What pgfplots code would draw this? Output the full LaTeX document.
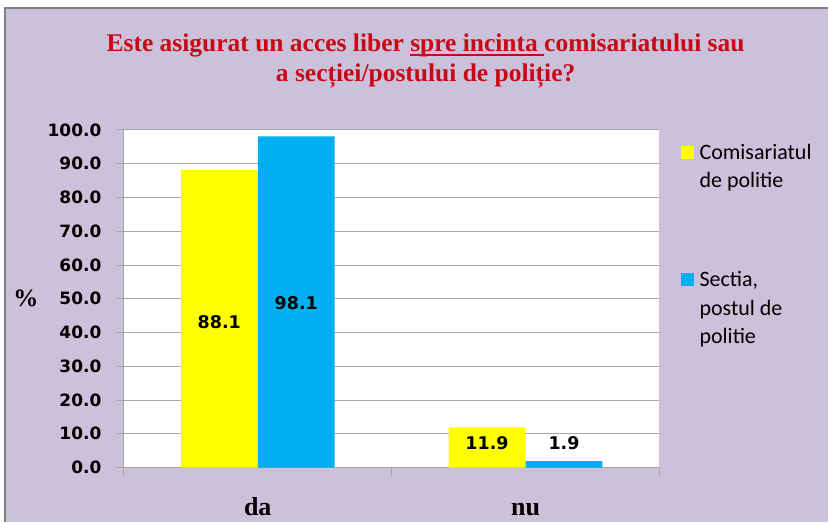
\documentclass[border=0pt]{standalone}
\usepackage{fontspec}
\usepackage{pgfplots}
\pgfplotsset{compat=1.18}
\setmainfont{Liberation Serif}
\newfontfamily\tickfont{DejaVu Sans}
\newfontfamily\legfont{Carlito}
\definecolor{bgl}{RGB}{204,193,218}
\definecolor{ttl}{RGB}{200,8,20}
\definecolor{ybarc}{RGB}{255,255,0}
\definecolor{cbarc}{RGB}{0,176,240}
\definecolor{gridc}{RGB}{165,165,165}
\newcommand{\myul}[1]{\setbox0\hbox{#1}\rlap{\rule[-4bp]{\wd0}{1.6bp}}\box0}
\begin{document}
\begin{tikzpicture}[x=1bp,y=1bp]
\fill[white] (0,0) rectangle (829,522);
\fill[bgl] (5,0) rectangle (829,514);
\draw[gray, line width=1.5bp] (5,0) -- (5,514) -- (829,514);
\node[font=\bfseries\fontsize{25.5bp}{30bp}\selectfont, text=ttl, anchor=base] at (426,470) {Este asigurat un acces liber \myul{spre incinta\ }comisariatului sau};
\node[font=\bfseries\fontsize{25.5bp}{30bp}\selectfont, text=ttl, anchor=base] at (426,440) {a secției/postului de poliție?};
\begin{axis}[
  at={(124bp,54bp)}, anchor=south west,
  scale only axis, width=536bp, height=338bp,
  xmin=-0.5, xmax=1.5, ymin=0, ymax=100,
  axis background/.style={fill=white},
  axis x line*=bottom, axis y line*=left,
  axis line style={gridc, line width=0.8bp},
  xtick={0,1}, xticklabels={da,nu},
  x tick style={draw=none},
  xticklabel style={font=\bfseries\fontsize{26bp}{30bp}\selectfont, anchor=base, yshift=-41bp},
  extra x ticks={-0.5,0.5,1.5}, extra x tick labels={},
  extra x tick style={tick align=outside, major tick length=8bp, xmajorgrids=false, x tick style={draw=gridc, line width=0.8bp}},
  ytick={0,10,...,100},
  tick align=outside, major tick length=7bp,
  y tick style={draw=gridc, line width=0.8bp},
  ymajorgrids, grid style={gridc, line width=0.8bp},
  yticklabel style={font=\tickfont\bfseries\fontsize{17bp}{20bp}\selectfont, anchor=east, xshift=-12bp},
  /pgf/number format/.cd, fixed, fixed zerofill, precision=1, assume math mode=true, /pgfplots/.cd,
  ylabel={\%},
  every axis y label/.style={at={(axis description cs:0,0.5)}, anchor=center, xshift=-98bp, font=\bfseries\fontsize{25bp}{28bp}\selectfont},
  legend style={at={(1,1)}, anchor=north west, xshift=18bp, yshift=-10bp, draw=none, fill=none,
    font=\legfont\fontsize{22bp}{28.5bp}\selectfont, row sep=78bp,
    cells={anchor=north west, align=left}},
  legend image code/.code={\fill[#1,draw=none] (0bp,-17bp) rectangle (13bp,-4bp); \path (17bp,-10bp);},
]
\addplot[ybar, bar width=0.2873, bar shift=-0.1437, fill=ybarc, draw=none] coordinates {(0,88.1) (1,11.9)};
\addplot[ybar, bar width=0.2873, bar shift=0.1437, fill=cbarc, draw=none] coordinates {(0,98.1) (1,1.9)};
\legend{{Comisariatul\\de politie},{Sectia,\\postul de\\politie}}
\addplot[draw=none, mark=none, nodes near coords, point meta=explicit symbolic,
  nodes near coords style={anchor=center, font=\tickfont\bfseries\fontsize{17.5bp}{20bp}\selectfont, text=black}]
  coordinates {(-0.1437,43.2)[88.1] (0.1437,48.8)[98.1] (0.8563,7.2)[11.9] (1.1437,7.2)[1.9]};
\end{axis}
\end{tikzpicture}
\end{document}
